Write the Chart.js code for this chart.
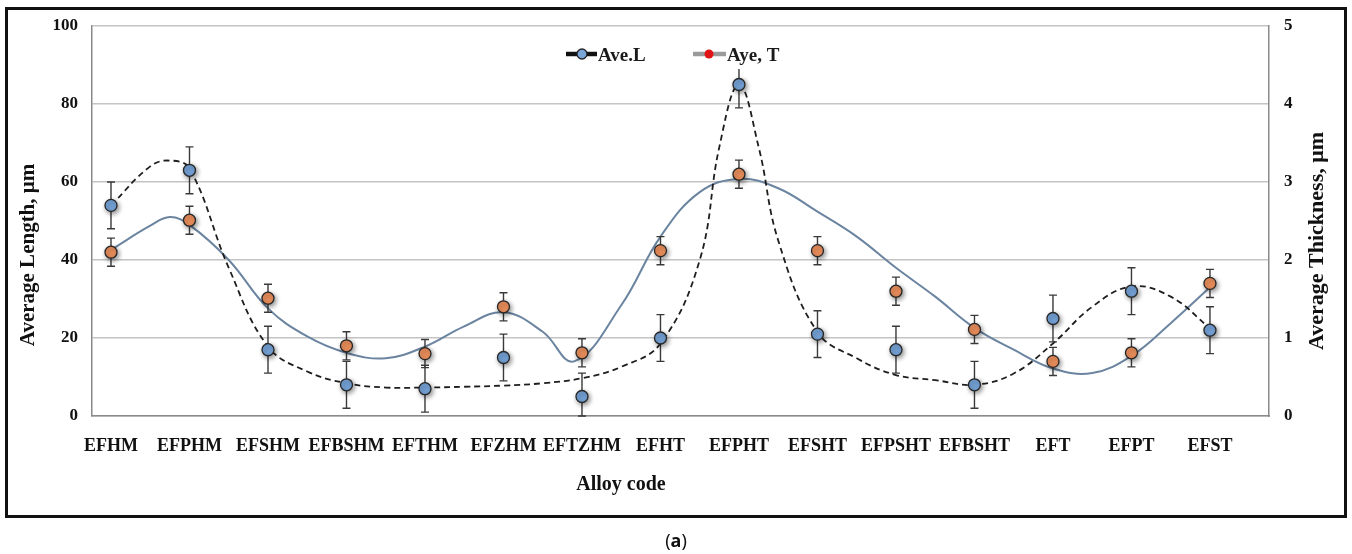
<!DOCTYPE html>
<html>
<head>
<meta charset="utf-8">
<script src="https://cdn.jsdelivr.net/npm/chart.js@4.4.0/dist/chart.umd.min.js"></script>
<style>
  html, body { margin: 0; padding: 0; background: #fff; }
  #wrap { position: relative; width: 1352px; height: 554px; overflow: hidden; background: #fff; }
  #frame { position: absolute; left: 5px; top: 7px; width: 1342px; height: 511px; box-sizing: border-box; border: 3px solid #111; }
  #chart { position: absolute; left: 0; top: 0; }
  #cap { position: absolute; left: 0; top: 529px; width: 1352px; text-align: center; font-family: "Noto Sans", sans-serif; font-size: 18px; line-height: 22px; color: #111; }
  #cap b { font-weight: 700; }
</style>
</head>
<body>
<div id="wrap">
  <div id="frame"></div>
  <canvas id="chart" width="1352" height="554"></canvas>
  <div id="cap">(<b>a</b>)</div>
</div>
<script>
// ---------- data ----------
const categories = ["EFHM","EFPHM","EFSHM","EFBSHM","EFTHM","EFZHM","EFTZHM","EFHT","EFPHT","EFSHT","EFPSHT","EFBSHT","EFT","EFPT","EFST"];
const lengthValues = [54, 63, 17, 8, 7, 15, 5, 20, 85, 21, 17, 8, 25, 32, 22];
const lengthErrors = [6, 6, 6, 6, 6, 6, 6, 6, 6, 6, 6, 6, 6, 6, 6];
const thickValues = [2.1, 2.51, 1.51, 0.9, 0.8, 1.4, 0.81, 2.12, 3.1, 2.12, 1.6, 1.11, 0.7, 0.81, 1.7];
const thickErrors = [0.18, 0.18, 0.18, 0.18, 0.18, 0.18, 0.18, 0.18, 0.18, 0.18, 0.18, 0.18, 0.18, 0.18, 0.18];
// trend curves (position along category axis, value)
const lengthTrendX = [0, 0.5, 0.75, 1, 1.5, 2, 2.5, 3, 3.5, 4, 4.5, 5, 5.5, 6, 6.5, 7, 7.5, 7.75, 8, 8.25, 8.5, 9, 9.5, 10, 10.5, 11, 11.5, 12, 12.5, 13, 13.5, 14];
const lengthTrendY = [54, 64, 65.5, 63.5, 38, 17.8, 11.4, 8.4, 7.3, 7.3, 7.5, 7.8, 8.4, 9.7, 12.6, 18.6, 40, 69, 85, 69, 45, 21.5, 14.8, 10.5, 9.2, 8, 10.9, 18.6, 28, 33.2, 30.6, 22.5];
const thickTrendX = [0, 0.5, 0.75, 1, 1.5, 2, 2.5, 3, 3.5, 4, 4.5, 5, 5.5, 5.9, 6.5, 7, 7.5, 8, 8.5, 9, 9.5, 10, 10.5, 11, 11.5, 12, 12.5, 13, 13.5, 14];
const thickTrendY = [2.13, 2.44, 2.55, 2.45, 2.0, 1.38, 1.02, 0.81, 0.74, 0.89, 1.15, 1.33, 1.08, 0.70, 1.42, 2.3, 2.87, 3.04, 2.92, 2.62, 2.3, 1.9, 1.53, 1.13, 0.85, 0.61, 0.55, 0.77, 1.19, 1.65];
const leftTicks = [0, 20, 40, 60, 80, 100];
const rightTicks = [0, 1, 2, 3, 4, 5];

// ---------- helpers ----------
const SERIF = '"Liberation Serif", "Times New Roman", serif';
const toPts = (xs, ys) => xs.map((x, i) => ({ x: x, y: ys[i] }));

const extras = {
  id: 'extras',
  beforeDatasetDraw(chart, args) {
    const ds = chart.data.datasets[args.index];
    if (!ds.errors) return;
    const ctx = chart.ctx;
    const xs = chart.scales.x, ys = chart.scales[ds.yAxisID];
    ctx.save();
    ctx.strokeStyle = '#3a3a3a';
    ctx.lineWidth = 1.4;
    ds.data.forEach((p, i) => {
      const e = ds.errors[i];
      const px = xs.getPixelForValue(p.x);
      const top = ys.getPixelForValue(p.y + e);
      const bot = ys.getPixelForValue(Math.max(ys.min, p.y - e));
      ctx.beginPath();
      ctx.moveTo(px, top); ctx.lineTo(px, bot);
      ctx.moveTo(px - 4, top); ctx.lineTo(px + 4, top);
      ctx.moveTo(px - 4, bot); ctx.lineTo(px + 4, bot);
      ctx.stroke();
    });
    ctx.shadowColor = 'rgba(0,0,0,0.45)';
    ctx.shadowBlur = 5;
    ctx.shadowOffsetX = 1.5;
    ctx.shadowOffsetY = 2;
  },
  afterDatasetDraw(chart, args) {
    const ds = chart.data.datasets[args.index];
    if (!ds.errors) return;
    chart.ctx.restore();
  },
  afterDraw(chart) {
    const ctx = chart.ctx;
    ctx.save();
    ctx.fillStyle = '#111';
    ctx.textAlign = 'center';
    ctx.textBaseline = 'middle';
    // axis titles
    ctx.font = 'bold 21px ' + SERIF;
    ctx.save(); ctx.translate(29, 255); ctx.rotate(-Math.PI / 2); ctx.fillText('Average Length, μm', 0, 0); ctx.restore();
    ctx.font = 'bold 22px ' + SERIF;
    ctx.save(); ctx.translate(1317, 241); ctx.rotate(-Math.PI / 2); ctx.fillText('Average Thickness, μm', 0, 0); ctx.restore();
    ctx.font = 'bold 20px ' + SERIF;
    ctx.fillText('Alloy code', 621, 485);
    // legend
    ctx.fillStyle = '#fff';
    ctx.fillRect(555, 40, 232, 29);
    ctx.lineCap = 'butt';
    ctx.strokeStyle = '#111'; ctx.lineWidth = 4.5;
    ctx.beginPath(); ctx.moveTo(566, 54); ctx.lineTo(597, 54); ctx.stroke();
    ctx.beginPath(); ctx.arc(582, 54, 5, 0, Math.PI * 2);
    ctx.fillStyle = '#7aa7d9'; ctx.fill(); ctx.lineWidth = 1.3; ctx.strokeStyle = '#222'; ctx.stroke();
    ctx.strokeStyle = '#9a9a9a'; ctx.lineWidth = 4.5;
    ctx.beginPath(); ctx.moveTo(693, 54); ctx.lineTo(726, 54); ctx.stroke();
    ctx.beginPath(); ctx.arc(709, 54, 4.5, 0, Math.PI * 2);
    ctx.fillStyle = '#e01414'; ctx.fill();
    ctx.fillStyle = '#1a1a1a';
    ctx.font = 'bold 19px ' + SERIF;
    ctx.textAlign = 'left';
    ctx.textBaseline = 'alphabetic';
    ctx.fillText('Ave.L', 598, 61);
    ctx.fillText('Aye, T', 727, 61);
    ctx.restore();
  }
};

Chart.defaults.font.family = SERIF;

new Chart(document.getElementById('chart'), {
  type: 'line',
  data: {
    datasets: [
      {
        label: 'Ave.L', yAxisID: 'y', showLine: false, clip: false,
        data: toPts(categories.map((c, i) => i), lengthValues),
        errors: lengthErrors,
        pointRadius: 6, pointBackgroundColor: '#75a3d8', pointBorderColor: '#262626', pointBorderWidth: 1.3
      },
      {
        label: 'Aye, T', yAxisID: 'y2', showLine: false, clip: false,
        data: toPts(categories.map((c, i) => i), thickValues),
        errors: thickErrors,
        pointRadius: 6, pointBackgroundColor: '#ec8f5c', pointBorderColor: '#262626', pointBorderWidth: 1.3
      },
      {
        label: 'Length trend', yAxisID: 'y',
        data: toPts(lengthTrendX, lengthTrendY),
        borderColor: '#1e1e1e', borderWidth: 1.8, borderDash: [6, 4],
        pointRadius: 0, tension: 0.4, fill: false
      },
      {
        label: 'Thickness trend', yAxisID: 'y2',
        data: toPts(thickTrendX, thickTrendY),
        borderColor: '#6b84a0', borderWidth: 2,
        pointRadius: 0, tension: 0.4, fill: false
      }
    ]
  },
  options: {
    responsive: false,
    animation: false,
    devicePixelRatio: 1,
    layout: { padding: { top: 26, left: 0, right: 0, bottom: 0 } },
    plugins: { legend: { display: false }, tooltip: { enabled: false } },
    scales: {
      x: {
        type: 'linear', position: 'bottom',
        min: -0.242, max: 14.752,
        grid: { display: false },
        border: { display: true, color: '#8a8a8a', width: 1.5 },
        afterBuildTicks: s => { s.ticks = categories.map((c, i) => ({ value: i })); },
        afterFit: s => { s.height = 138; },
        ticks: {
          autoSkip: false, maxRotation: 0, minRotation: 0, padding: 12, color: '#111',
          font: { size: 18, weight: 'bold' },
          callback: v => categories[Math.round(v)] || ''
        }
      },
      y: {
        position: 'left', min: 0, max: 100,
        afterBuildTicks: s => { s.ticks = leftTicks.map(v => ({ value: v })); },
        afterFit: s => { s.width = 92; },
        grid: { color: '#c4c4c4', lineWidth: 1.5, drawTicks: false },
        border: { display: true, color: '#8a8a8a', width: 1.5 },
        ticks: { padding: 14, color: '#111', font: { size: 17, weight: 'bold' } }
      },
      y2: {
        position: 'right', min: 0, max: 5,
        afterBuildTicks: s => { s.ticks = rightTicks.map(v => ({ value: v })); },
        afterFit: s => { s.width = 83; },
        grid: { display: false, drawTicks: false },
        border: { display: true, color: '#8a8a8a', width: 1.5 },
        ticks: { padding: 15, color: '#111', font: { size: 17, weight: 'bold' } }
      }
    }
  },
  plugins: [extras]
});
</script>
</body>
</html>
